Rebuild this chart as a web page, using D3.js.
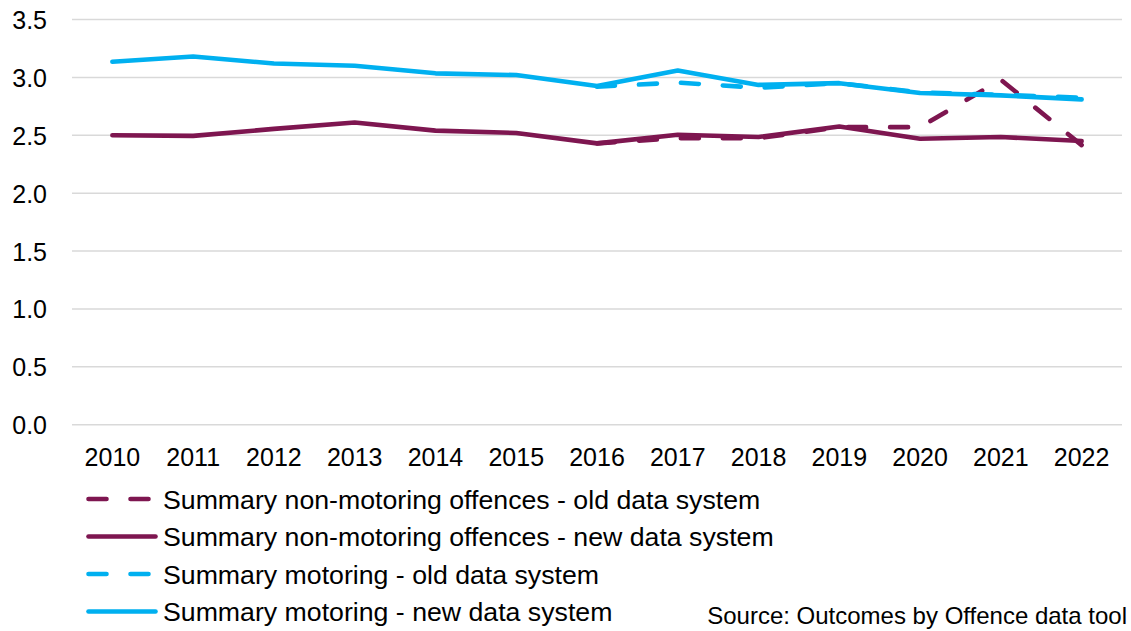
<!DOCTYPE html>
<html>
<head>
<meta charset="utf-8">
<script src="https://cdn.jsdelivr.net/npm/d3@7"></script>
<style>
  html, body { margin: 0; padding: 0; background: #ffffff; }
  svg { display: block; font-family: "Liberation Sans", Arial, sans-serif; }
</style>
</head>
<body>
<svg id="chart" width="1131" height="631"></svg>
<script>
// Years on the x axis
const years = ["2010","2011","2012","2013","2014","2015","2016","2017","2018","2019","2020","2021","2022"];

// Average values per year (old system only reported from 2016)
const nonMotoringOld = [null, null, null, null, null, null, 2.43, 2.475, 2.475, 2.57, 2.57, 2.98, 2.415];
const nonMotoringNew = [2.50, 2.495, 2.555, 2.61, 2.54, 2.52, 2.43, 2.505, 2.485, 2.575, 2.47, 2.485, 2.45];
const motoringOld    = [null, null, null, null, null, null, 2.92, 2.955, 2.91, 2.95, 2.87, 2.85, 2.825];
const motoringNew    = [3.135, 3.18, 3.12, 3.10, 3.035, 3.02, 2.925, 3.06, 2.935, 2.95, 2.865, 2.845, 2.81];

const yTicks = [0, 0.5, 1.0, 1.5, 2.0, 2.5, 3.0, 3.5];

const seriesNames = [
  "Summary non-motoring offences - old data system",
  "Summary non-motoring offences - new data system",
  "Summary motoring - old data system",
  "Summary motoring - new data system"
];

const purple = "#7E1650";
const blue = "#00B0F0";

const series = [
  { name: seriesNames[0], values: nonMotoringOld, color: purple, dashed: true },
  { name: seriesNames[1], values: nonMotoringNew, color: purple, dashed: false },
  { name: seriesNames[2], values: motoringOld,    color: blue,   dashed: true },
  { name: seriesNames[3], values: motoringNew,    color: blue,   dashed: false }
];

const svg = d3.select("#chart");
const plot = { left: 72, right: 1122, top: 19.5, bottom: 424.7 };

const x = d3.scaleBand().domain(years).range([plot.left, plot.right]);
const y = d3.scaleLinear().domain([0, 3.5]).range([plot.bottom, plot.top]);

const strokeW = 4.6;
const dash = "18,24";

// Horizontal gridlines
svg.append("g")
  .selectAll("line")
  .data(yTicks)
  .join("line")
  .attr("x1", plot.left)
  .attr("x2", plot.right)
  .attr("y1", d => y(d))
  .attr("y2", d => y(d))
  .attr("stroke", "#d9d9d9")
  .attr("stroke-width", 1.5);

// Y axis labels
const yAxis = d3.axisLeft(y).tickValues(yTicks).tickFormat(d3.format(".1f")).tickSize(0).tickPadding(0);
const yg = svg.append("g").attr("transform", "translate(47,0)").call(yAxis);
yg.select(".domain").remove();
yg.selectAll("text")
  .attr("font-family", "Liberation Sans, Arial, sans-serif")
  .attr("font-size", 25)
  .attr("fill", "#000")
  .attr("dy", "0.36em");

// X axis labels
const xAxis = d3.axisBottom(x).tickSize(0).tickPadding(0);
const xg = svg.append("g").attr("transform", "translate(0,448)").call(xAxis);
xg.select(".domain").remove();
xg.selectAll("text")
  .attr("font-family", "Liberation Sans, Arial, sans-serif")
  .attr("font-size", 25)
  .attr("fill", "#000")
  .attr("dy", "0.71em");

// Series lines
const line = d3.line()
  .defined(d => d != null)
  .x((d, i) => x(years[i]) + x.bandwidth() / 2)
  .y(d => y(d));

svg.append("g")
  .selectAll("path")
  .data(series)
  .join("path")
  .attr("d", s => line(s.values))
  .attr("fill", "none")
  .attr("stroke", s => s.color)
  .attr("stroke-width", strokeW)
  .attr("stroke-linecap", "round")
  .attr("stroke-linejoin", "round")
  .attr("stroke-dasharray", s => s.dashed ? dash : null);

// Legend
const legendRows = [499, 536.5, 574, 611.5];
const lg = svg.append("g")
  .selectAll("g")
  .data(series)
  .join("g")
  .attr("transform", (s, i) => `translate(0,${legendRows[i]})`);

lg.append("line")
  .attr("x1", 88.5)
  .attr("x2", 155.5)
  .attr("y1", 0)
  .attr("y2", 0)
  .attr("stroke", s => s.color)
  .attr("stroke-width", strokeW)
  .attr("stroke-linecap", "round")
  .attr("stroke-dasharray", s => s.dashed ? dash : null);

lg.append("text")
  .attr("x", 163)
  .attr("y", 0)
  .attr("dy", "0.36em")
  .attr("font-size", 26.7)
  .attr("fill", "#000")
  .text(s => s.name);

// Source note
svg.append("text")
  .attr("x", 1127)
  .attr("y", 624)
  .attr("text-anchor", "end")
  .attr("font-size", 24)
  .attr("fill", "#000")
  .text("Source: Outcomes by Offence data tool");
</script>
</body>
</html>
